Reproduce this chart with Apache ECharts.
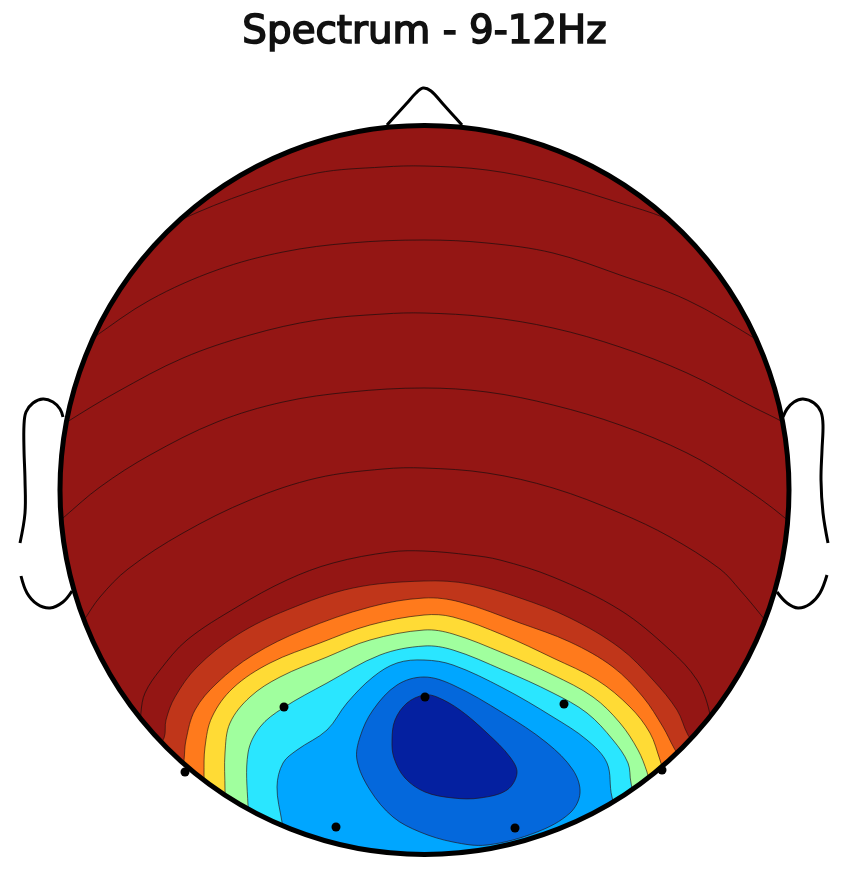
<!DOCTYPE html>
<html>
<head>
<meta charset="utf-8">
<style>html,body{margin:0;padding:0;background:#fff}#c{width:851px;height:875px}</style>
<script src="https://cdn.jsdelivr.net/npm/echarts@6/dist/echarts.min.js"></script>
</head>
<body>
<div id="c"></div>
<script>
const titleText = 'Spectrum - 9-12Hz';
const headCenter = [424.5, 490];
const headRadius = 364.5;
const sensors = [[284,707],[425,697],[564,704],[336,827],[515,828],[185,772],[662,770]];
const nose = [[387,125],[397,114],[407,103],[416,93],[423,88],[431,91],[443,104],[452,114],[462,125]];
const earLeftUpper = [[63,417],[60,409],[53,402],[43,399],[33,403],[26,412],[24,425],[24,450],[25,480],[25,513],[20,543]];
const earLeftLower = [[21,576],[27,593],[37,604],[50,608],[63,602],[72,591]];
const earRightUpper = [[783,417],[787,409],[794,402],[803,399],[814,403],[821,412],[823,425],[822,450],[821,480],[823,513],[828,543]];
const earRightLower = [[827,575],[820,593],[810,604],[798,608],[787,603],[777,592]];

// contour levels, outermost first
const level0 = [[145,240],[178,221],[250,192],[317,173],[383,167],[424,166],[487,170],[553,183],[620,203],[665,218],[700,237]];
const level1 = [[70,355],[93,338],[150,300],[217,270],[283,252],[350,243],[424,240],[487,243],[553,253],[620,275],[687,300],[754,338],[778,355]];
const level2 = [[45,437],[67,422],[117,392],[183,358],[250,335],[317,320],[383,314],[424,313],[487,317],[553,328],[620,347],[687,373],[753,407],[781,421],[805,435]];
const level3 = [[40,538],[63,518],[100,487],[150,455],[217,422],[283,402],[350,392],[424,388],[487,392],[553,405],[620,425],[687,453],[737,483],[785,518],[805,540]];
const level4 = [[70,640],[84,620],[100,597],[128,569],[183,533],[250,500],[317,478],[383,469],[424,468],[487,473],[553,488],[620,513],[670,537],[720,569],[740,590],[765,620],[780,640]];
const level5 = [[140,740],[141,712],[145,693],[160,670],[187,640],[237,607],[287,580],[333,563],[390,552],[424,551],[470,555],[500,560],[553,577],[620,610],[670,650],[697,680],[709,710],[712,740]];
const level6 = [[150,760],[164,738],[166,720],[175,697],[197,667],[237,635],[287,610],[353,588],[424,581],[470,584],[520,598],[570,618],[620,648],[653,680],[677,710],[688,735],[705,760]];
const level7 = [[180,790],[184,760],[186,740],[195,710],[217,683],[253,655],[303,630],[370,607],[424,598],[460,602],[520,623],[570,642],[613,667],[643,697],[663,727],[674,748],[690,775]];
const level8 = [[204,810],[204,775],[205,747],[212,717],[233,688],[270,663],[320,643],[370,625],[424,615],[453,617],[503,635],[553,658],[597,680],[630,707],[650,733],[660,760],[672,795]];
const level9 = [[225,830],[225,790],[225,753],[230,723],[250,697],[280,677],[327,657],[370,640],[424,630],[453,634],[503,653],[553,675],[593,697],[620,723],[638,750],[647,772],[655,800]];
const level10 = [[252,840],[248,805],[248,753],[260,727],[283,708],[327,683],[380,655],[424,646],[453,650],[503,670],[553,693],[587,713],[613,740],[628,763],[631,783],[640,815]];
const level11 = [[290,870],[282,822],[277,787],[283,763],[297,750],[327,730],[347,703],[373,677],[397,663],[424,660],[453,665],[503,688],[553,717],[587,740],[607,763],[612,797],[625,830]];
const level12 = [[424,677],[453,685],[503,713],[547,743],[573,770],[580,793],[570,813],[537,832],[487,845],[453,842],[420,832],[393,817],[370,790],[357,760],[360,737],[373,710],[397,685]];
const level13 = [[424,695],[437,697],[460,710],[487,733],[510,757],[517,773],[507,790],[480,798],[453,798],[425,792],[405,778],[394,758],[392,740],[395,720],[407,703]];
const outsideClosure = [[780,900],[70,900]];

const baseColor = '#941614';
const filledLevels = [
  [level6,'#C0361A',true],[level7,'#FF7A1C',true],[level8,'#FFDB35',true],[level9,'#A0FF9E',true],
  [level10,'#2AE6FF',true],[level11,'#00A6FF',true],[level12,'#0468DC',false],[level13,'#0420A0',false]
];
const lineLevels = [level0,level1,level2,level3,level4,level5];
const earLines = [nose,earLeftUpper,earLeftLower,earRightUpper,earRightLower];
const contourStroke = 'rgba(40,15,15,0.8)';

function clip(api){
  const c = api.coord(headCenter);
  return {type:'circle', shape:{cx:c[0], cy:c[1], r:headRadius - 0.5}};
}
function disc(fill, stroke, lw){
  return {
    type:'custom', coordinateSystem:'cartesian2d', silent:true, clip:false, animation:false,
    data:[headCenter],
    renderItem:function(p, api){
      const c = api.coord(headCenter);
      const r = api.size([headRadius,0])[0];
      return {type:'circle', shape:{cx:c[0], cy:c[1], r:r},
        style:{fill:fill, stroke:stroke, lineWidth:lw}};
    }
  };
}
function curve(points, opt){
  return {
    type:'custom', coordinateSystem:'cartesian2d', silent:true, clip:false, animation:false,
    data:points,
    renderItem:function(p, api){
      if (p.dataIndex !== 0) return null;
      const px = points.map(function(q){return api.coord(q);});
      const el = {type:opt.fill ? 'polygon' : 'polyline',
        shape:{points:px, smooth:opt.smooth},
        style:{fill:opt.fill || 'none', stroke:opt.stroke, lineWidth:opt.lw}};
      if (opt.clipped) el.clipPath = clip(api);
      return el;
    }
  };
}
const series = [];
series.push(disc(baseColor,'none',0));
filledLevels.forEach(function(f){
  const pts = f[2] ? f[0].concat(outsideClosure) : f[0];
  series.push(curve(pts,{fill:f[1],stroke:contourStroke,lw:0.8,smooth:0.35,clipped:true}));
});
lineLevels.forEach(function(l){
  series.push(curve(l,{stroke:contourStroke,lw:1,smooth:0.35,clipped:true}));
});
earLines.forEach(function(l){
  series.push(curve(l,{stroke:'#000',lw:3,smooth:0.35,clipped:false}));
});
series.push(disc('none','#000',5));
series.push({type:'scatter',data:sensors,symbol:'circle',symbolSize:9,itemStyle:{color:'#000',opacity:1},silent:true,animation:false,clip:false});

const chart = echarts.init(document.getElementById('c'),null,{renderer:'canvas'});
chart.setOption({
  backgroundColor:'#fff',
  animation:false,
  title:{text:titleText,left:424.5,top:13,padding:0,textAlign:'center',
    textStyle:{fontFamily:'DejaVu Sans',fontSize:38.8,fontWeight:'normal',color:'#111',textBorderColor:'#111',textBorderWidth:1.6}},
  grid:{left:0,right:0,top:0,bottom:0},
  xAxis:{type:'value',min:0,max:851,show:false},
  yAxis:{type:'value',min:0,max:875,inverse:true,show:false},
  tooltip:{show:false},
  series:series
});
</script>
</body>
</html>
